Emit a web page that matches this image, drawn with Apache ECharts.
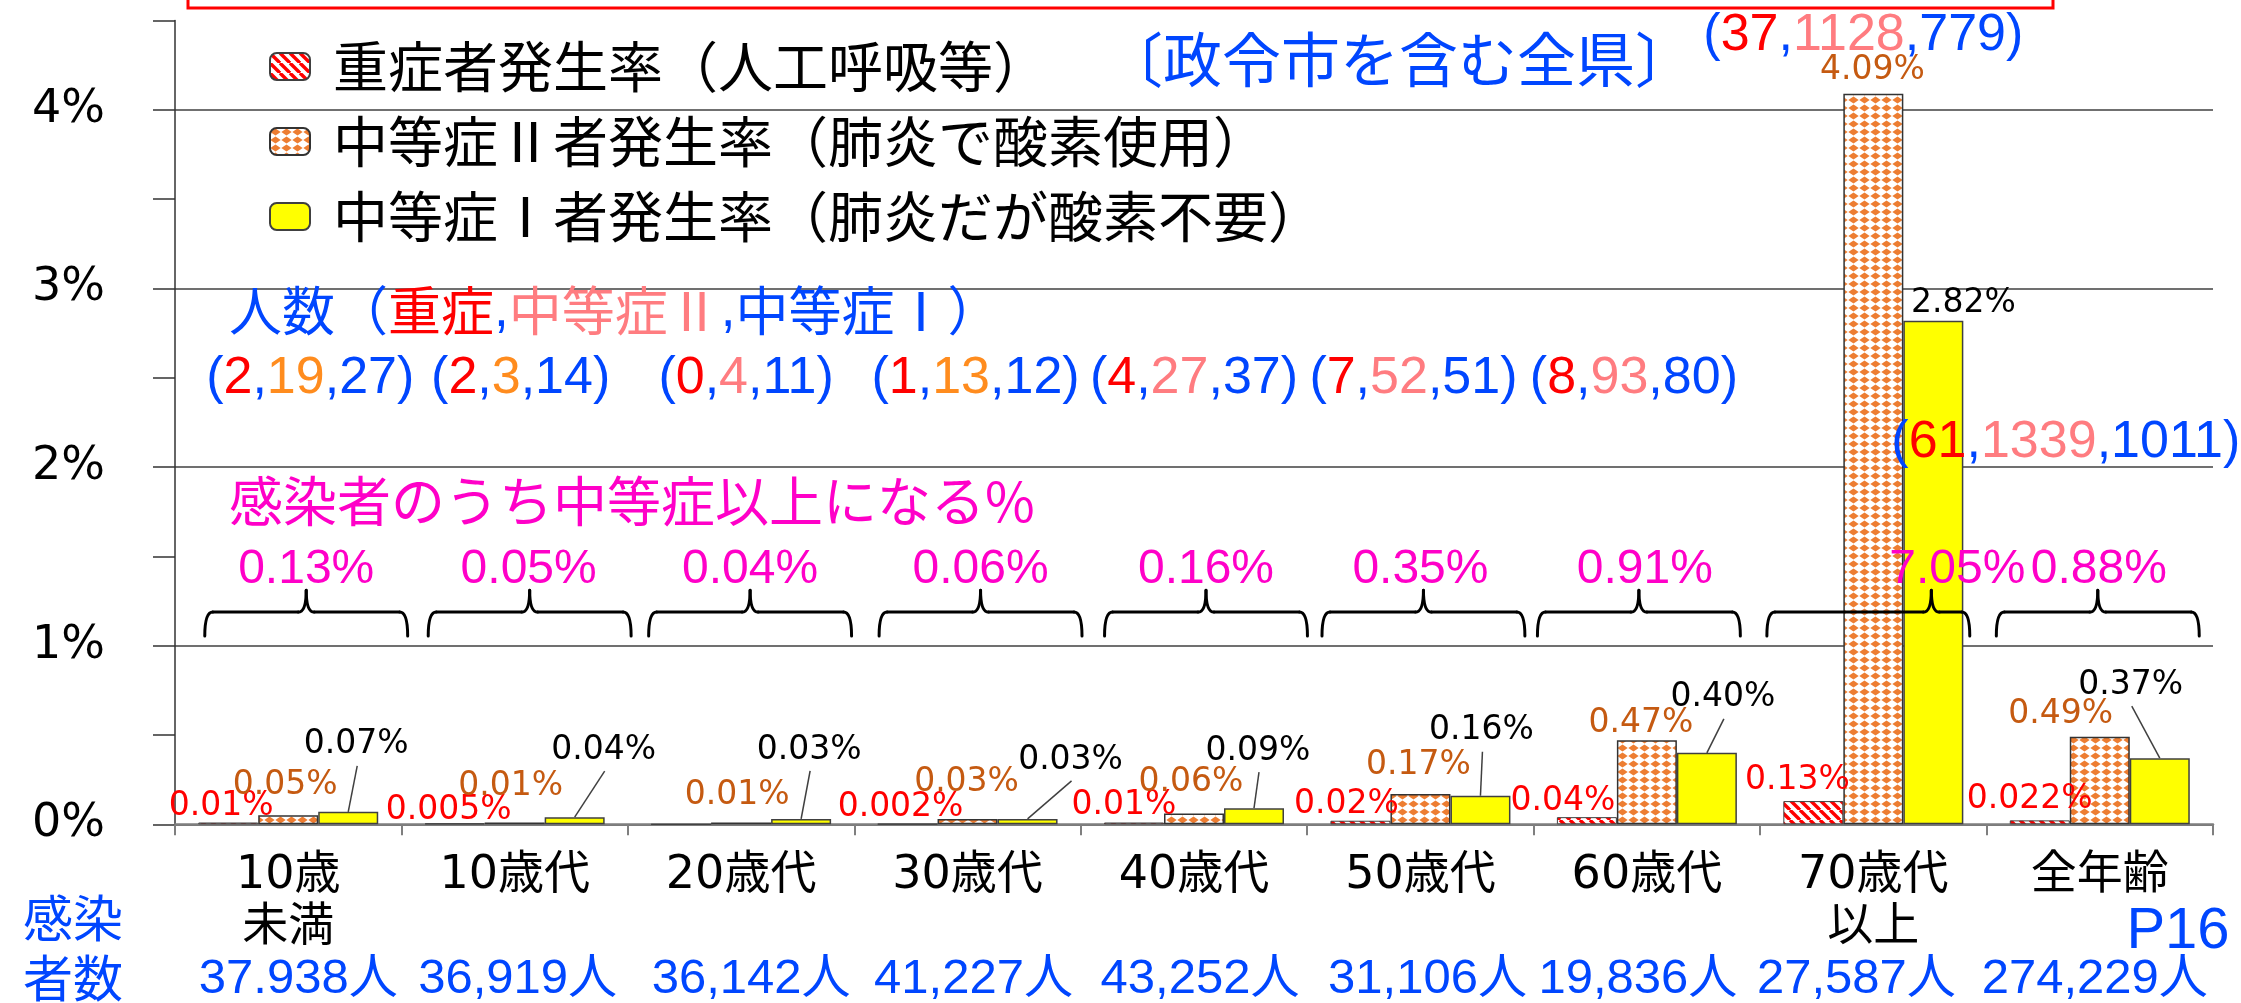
<!DOCTYPE html>
<html><head><meta charset="utf-8">
<script src="https://cdn.jsdelivr.net/npm/echarts@6/dist/echarts.min.js"></script>
<style>html,body{margin:0;padding:0;background:#fff}#c{width:2241px;height:1003px}</style>
</head><body><div id="c"></div>
<script>
// ---------------- data ----------------
const categories = ['10歳\n未満','10歳代','20歳代','30歳代','40歳代','50歳代','60歳代','70歳代\n以上','全年齢'];
const severeRate    = [0.01, 0.005, 0, 0.002, 0.01, 0.02, 0.04, 0.13, 0.022];
const moderate2Rate = [0.05, 0.01, 0.01, 0.03, 0.06, 0.17, 0.47, 4.09, 0.49];
const moderate1Rate = [0.07, 0.04, 0.03, 0.03, 0.09, 0.16, 0.40, 2.82, 0.37];
const severeCount    = [2, 2, 0, 1, 4, 7, 8, 37, 61];
const moderate2Count = [19, 3, 4, 13, 27, 52, 93, 1128, 1339];
const moderate1Count = [27, 14, 11, 12, 37, 51, 80, 779, 1011];
const moderateOrAbovePct = ['0.13%','0.05%','0.04%','0.06%','0.16%','0.35%','0.91%','7.05%','0.88%'];
const infectedCount = ['37.938人','36,919人','36,142人','41,227人','43,252人','31,106人','19,836人','27,587人','274,229人'];
const yTickLabels = ['0%','1%','2%','3%','4%'];
const seriesNames = ['重症者発生率（人工呼吸等）','中等症Ⅱ者発生率（肺炎で酸素使用）','中等症Ⅰ者発生率（肺炎だが酸素不要）'];

// ---------------- layout / style ----------------
const BAR_W = 60;
const BLUE = '#0046FF', RED = '#FF0000', PINK = '#FF7C80', ORANGE = '#FF8C1E', MAGENTA = '#FF00C8';
const severeLabelOffset = [[-7,0],[-6,3],[0,0],[-7,0],[-10,-1],[-14,0],[-24,0],[-16,-5],[-10,-5]];
const mod2LabelOffset   = [[-3,-14],[-4,-20],[-4,-11],[-1,-21],[-3,-15],[-2,-13],[-6,-1],[-1,-7],[-39,-6]];
const mod1LabelOffset   = [[8,-51],[29,-51],[8,-53],[43,-43],[4,-41],[1,-49],[16,-39],[30,-1],[-29,-57]];
const leaderShow = [1,1,1,1,1,1,1,0,1];
const braceShift = [18,15,9,13,12,3,-8,-5,-2];
const peakShift  = [0,0,0,0,0,0,0,63,0];
const pctShift   = [18,14,9,13,12,0,-2,84,-1];
const countShift = [22,6,5,8,0,-7,-13,-10,-34];
const countV     = [2.498,2.498,2.498,2.498,2.498,2.498,2.498,4.417,2.139];
const midColorKey = ['o','o','p','o','p','p','p','p','p'];
const infShift   = [10,3,10,6,6,7,-9,-17,-5];
const AX = {braceLineV:1.188, braceEndV:1.054, bracePeakV:1.311, pctLabelV:1.423, infectedV:-0.871};

function hatchCanvas(){
  const c=document.createElement('canvas'); c.width=10; c.height=10;
  const g=c.getContext('2d'); g.fillStyle='#fff'; g.fillRect(0,0,10,10);
  g.strokeStyle='#FF0000'; g.lineWidth=3.4;
  for (const k of [-10,0,10]) { g.beginPath(); g.moveTo(k,0); g.lineTo(k+10,10); g.stroke(); }
  return c;
}
function diamondCanvas(){
  const w=11,h=8; const c=document.createElement('canvas'); c.width=w; c.height=h;
  const g=c.getContext('2d'); g.fillStyle='#fff'; g.fillRect(0,0,w,h);
  g.fillStyle='#ED7D31';
  g.beginPath(); g.moveTo(w/2,h/2-3.5); g.lineTo(w/2+5.2,h/2); g.lineTo(w/2,h/2+3.5); g.lineTo(w/2-5.2,h/2); g.closePath(); g.fill();
  return c;
}
function fmt(v){ const h=v*100; return (Math.abs(h-Math.round(h))<1e-9 ? v.toFixed(2) : v.toFixed(3)) + '%'; }
function barData(vals, offs){ return vals.map((v,i)=>({value:v, label:{offset:offs[i], show:v>0}})); }

const labelBase = {show:true, position:'top', distance:0, fontFamily:'DejaVu Sans', fontSize:33, lineHeight:32, formatter:p=>fmt(p.value)};

const chart = echarts.init(document.getElementById('c'), null, {renderer:'canvas'});
const option = {
  animation:false,
  backgroundColor:'#fff',
  textStyle:{fontFamily:'"Noto Sans CJK JP", sans-serif'},
  grid:{left:175, right:28, top:20.6, bottom:178.7, containLabel:false, outerBoundsMode:'none'},
  legend:{
    orient:'vertical', left:269, top:39, padding:0, itemWidth:40, itemHeight:27, itemGap:20, selectedMode:false,
    data:seriesNames,
    textStyle:{fontFamily:'Noto Sans CJK JP', fontSize:55, lineHeight:54, color:'#000', padding:[0,0,0,18]}
  },
  xAxis:{
    type:'category', data:categories,
    axisLine:{show:true, lineStyle:{color:'#7F7F7F', width:2.5}},
    axisTick:{show:true, length:11, lineStyle:{color:'#7F7F7F', width:2}},
    axisLabel:{interval:0, margin:26, color:'#000', fontFamily:'"DejaVu Sans","Noto Sans CJK JP"', fontSize:46, lineHeight:52},
    splitLine:{show:false}
  },
  yAxis:{
    type:'value', min:0, max:4.5, interval:0.5,
    axisLine:{show:true, lineStyle:{color:'#333', width:1.5}},
    axisTick:{show:true, length:22, inside:false, lineStyle:{color:'#333', width:1.5}},
    axisLabel:{margin:70, color:'#000', fontFamily:'DejaVu Sans', fontSize:46,
      formatter:v=>Number.isInteger(v) ? yTickLabels[v] : ''},
    splitLine:{show:true, lineStyle:{color:['#404040','rgba(0,0,0,0)'], width:1.5}}
  },
  graphic:[
    {type:'rect', z:100, shape:{x:188, y:-30, width:1865, height:38}, style:{fill:'none', stroke:'#FF0000', lineWidth:3}},
    {type:'text', z:100, x:1104, y:60, style:{text:'〔政令市を含む全県〕', fill:BLUE, font:'59px "Noto Sans CJK JP"', textAlign:'left', textVerticalAlign:'middle'}},
    {type:'text', z:100, x:229, y:311, style:{
      text:'{b|人数（}{r|重症}{c|,}{p|中等症Ⅱ}{c|,}{b|中等症Ⅰ）}',
      textAlign:'left', textVerticalAlign:'middle', font:'52px "Noto Sans CJK JP"',
      rich:{
        b:{fill:BLUE, fontSize:53, fontFamily:'Noto Sans CJK JP'},
        r:{fill:RED, fontSize:53, fontFamily:'Noto Sans CJK JP'},
        p:{fill:PINK, fontSize:53, fontFamily:'Noto Sans CJK JP'},
        c:{fill:BLUE, fontSize:53, fontFamily:'Liberation Sans'}
      }}},
    {type:'text', z:100, x:229, y:501, style:{text:'感染者のうち中等症以上になる%', fill:MAGENTA, font:'54px "Noto Sans CJK JP"', textAlign:'left', textVerticalAlign:'middle'}},
    {type:'text', z:100, x:73, y:948, style:{text:'感染\n者数', fill:BLUE, font:'50px "Noto Sans CJK JP"', lineHeight:60, textAlign:'center', textVerticalAlign:'middle'}},
    {type:'text', z:100, x:2178, y:932, style:{text:'P16', fill:BLUE, font:'58px "Liberation Sans"', textAlign:'center', textVerticalAlign:'middle'}}
  ],
  series:[
    {name:seriesNames[0], type:'bar', barWidth:BAR_W, barGap:'0%', z:2,
     itemStyle:{color:{image:hatchCanvas(), repeat:'repeat'}, borderColor:'#404040', borderWidth:1},
     label:Object.assign({}, labelBase, {color:RED}),
     data:barData(severeRate, severeLabelOffset)},
    {name:seriesNames[1], type:'bar', barWidth:BAR_W, barGap:'0%', z:2,
     itemStyle:{color:{image:diamondCanvas(), repeat:'repeat'}, borderColor:'#333', borderWidth:1.5},
     label:Object.assign({}, labelBase, {color:'#C55A11'}),
     data:barData(moderate2Rate, mod2LabelOffset)},
    {name:seriesNames[2], type:'bar', barWidth:BAR_W, barGap:'0%', z:2,
     itemStyle:{color:'#FFFF00', borderColor:'#404040', borderWidth:1.5},
     label:Object.assign({}, labelBase, {color:'#000'}),
     data:barData(moderate1Rate, mod1LabelOffset)},
    // leader lines for 中等症Ⅰ labels
    {type:'custom', name:'leader', z:3, silent:true,
     data:moderate1Rate.map((v,i)=>[i,v]),
     renderItem:(params, api)=>{
       const i=params.dataIndex;
       if (!leaderShow[i]) return {type:'group', children:[]};
       const p=api.coord([i, moderate1Rate[i]]);
       const bx=p[0]+BAR_W, by=p[1], o=mod1LabelOffset[i];
       return {type:'line', shape:{x1:bx+o[0]+1, y1:by+o[1]+5, x2:bx, y2:by}, style:{stroke:'#404040', lineWidth:1.5, fill:'none'}};
     }},
    // braces + % of moderate-or-above
    {type:'custom', name:'pct', z:10, silent:true,
     data:moderateOrAbovePct.map((_,i)=>[i,0]),
     renderItem:(params, api)=>{
       const i=params.dataIndex;
       const base=api.coord([i,0]); const cw=api.size([1,0])[0];
       const cx=base[0]+braceShift[i]; const half=cw*0.448;
       const x0=cx-half, x1=cx+half, px=cx+peakShift[i];
       const yL=api.coord([i,AX.braceLineV])[1], yE=api.coord([i,AX.braceEndV])[1], yP=api.coord([i,AX.bracePeakV])[1];
       const r=8, st={stroke:'#000', lineWidth:3, fill:'none', lineCap:'round'};
       return {type:'group', children:[
         {type:'bezierCurve', shape:{x1:x0,y1:yE,x2:x0+r,y2:yL,cpx1:x0,cpy1:yL}, style:st},
         {type:'line', shape:{x1:x0+r,y1:yL,x2:px-r,y2:yL}, style:st},
         {type:'bezierCurve', shape:{x1:px-r,y1:yL,x2:px,y2:yP,cpx1:px,cpy1:yL}, style:st},
         {type:'bezierCurve', shape:{x1:px,y1:yP,x2:px+r,y2:yL,cpx1:px,cpy1:yL}, style:st},
         {type:'line', shape:{x1:px+r,y1:yL,x2:x1-r,y2:yL}, style:st},
         {type:'bezierCurve', shape:{x1:x1-r,y1:yL,x2:x1,y2:yE,cpx1:x1,cpy1:yL}, style:st},
         {type:'text', x:cx+pctShift[i]-braceShift[i], y:api.coord([i,AX.pctLabelV])[1],
          style:{text:moderateOrAbovePct[i], fill:MAGENTA, font:'48px "Liberation Sans"', textAlign:'center', textVerticalAlign:'middle'}}
       ]};
     }},
    // patient counts (severe, moderate II, moderate I)
    {type:'custom', name:'counts', z:10, silent:true,
     data:severeCount.map((_,i)=>[i,0]),
     renderItem:(params, api)=>{
       const i=params.dataIndex;
       const x=api.coord([i,0])[0]+countShift[i], y=api.coord([i,countV[i]])[1];
       const k=midColorKey[i];
       const txt='{b|(}{r|'+severeCount[i]+'}{b|,}{'+k+'|'+moderate2Count[i]+'}{b|,'+moderate1Count[i]+')}';
       const f={fontSize:52, fontFamily:'Liberation Sans'};
       return {type:'text', x:x, y:y, style:{text:txt, textAlign:'center', textVerticalAlign:'middle', font:'52px "Liberation Sans"',
         rich:{b:Object.assign({fill:BLUE},f), r:Object.assign({fill:RED},f), o:Object.assign({fill:ORANGE},f), p:Object.assign({fill:PINK},f)}}};
     }},
    // infected persons
    {type:'custom', name:'infected', z:10, silent:true,
     data:infectedCount.map((_,i)=>[i,0]),
     renderItem:(params, api)=>{
       const i=params.dataIndex;
       const x=api.coord([i,0])[0]+infShift[i], y=api.coord([i,AX.infectedV])[1];
       return {type:'text', x:x, y:y, style:{text:infectedCount[i], fill:BLUE, font:'49px "Liberation Sans", "Noto Sans CJK JP"', textAlign:'center', textVerticalAlign:'middle'}};
     }}
  ]
};
chart.setOption(option);
</script></body></html>
